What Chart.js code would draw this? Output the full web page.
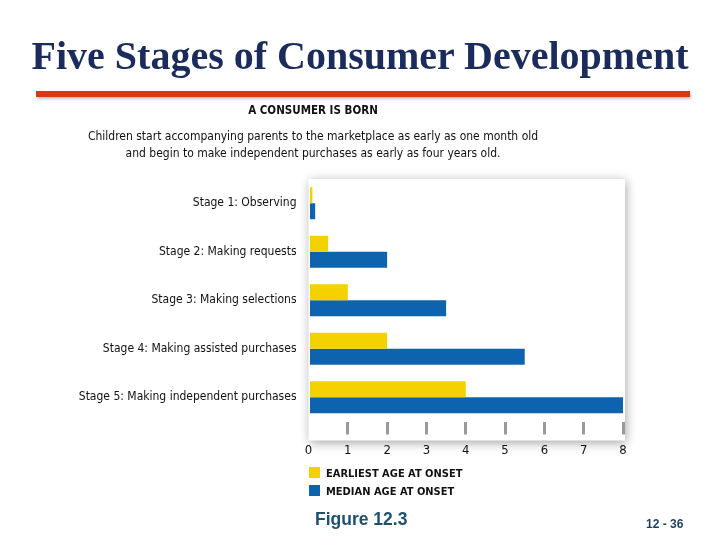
<!DOCTYPE html>
<html><head><meta charset="utf-8">
<script src="https://cdn.jsdelivr.net/npm/chart.js@4/dist/chart.umd.min.js"></script>
<style>
html,body{margin:0;padding:0;background:#fff;}
#wrap{position:relative;width:720px;height:540px;overflow:hidden;background:#fff;}
#c{position:absolute;left:0;top:0;}
.t{position:absolute;white-space:nowrap;}
#title{left:0;width:720px;top:33px;text-align:center;font-family:"Liberation Serif","Times New Roman",serif;font-weight:bold;font-size:40px;line-height:46px;color:#1b2b5c;}
#rule{position:absolute;left:36px;top:91px;width:654px;height:6px;background:#d9390f;box-shadow:1px 2px 3px rgba(0,0,0,0.25);}
.cond{font-family:"DejaVu Sans Condensed","Liberation Sans Narrow",sans-serif;color:#111;}
#head{left:0;width:626px;top:103px;text-align:center;font-weight:bold;font-size:11.5px;}
#sub{left:0;width:626px;top:128px;text-align:center;font-size:12px;line-height:17px;}
.leg{left:309px;font-weight:bold;font-size:11px;}
.sw{display:inline-block;width:11px;height:11px;vertical-align:-1px;margin-right:6px;}
#fig{left:315px;top:509px;font-family:"Liberation Sans",Arial,sans-serif;font-weight:bold;font-size:17.5px;color:#1d4f73;}
#pg{left:646px;top:517px;font-family:"Liberation Sans",Arial,sans-serif;font-weight:bold;font-size:12px;color:#1d3f5f;}
</style></head>
<body><div id="wrap">
<canvas id="c" width="720" height="540"></canvas>
<div id="title" class="t">Five Stages of Consumer Development</div>
<div id="rule"></div>
<div id="head" class="t cond">A CONSUMER IS BORN</div>
<div id="sub" class="t cond">Children start accompanying parents to the marketplace as early as one month old<br>and begin to make independent purchases as early as four years old.</div>
<div id="leg1" class="t cond leg" style="top:467px"></div>
<div id="leg2" class="t cond leg" style="top:485px"></div>
<div id="fig" class="t">Figure 12.3</div>
<div id="pg" class="t">12 - 36</div>
</div>
<script>
const categories = ["Stage 1: Observing","Stage 2: Making requests","Stage 3: Making selections","Stage 4: Making assisted purchases","Stage 5: Making independent purchases"];
const earliestAge = [0.1, 0.5, 1.0, 2.0, 4.0];
const medianAge = [0.17, 2.0, 3.5, 5.5, 8.0];
const seriesLabels = ["EARLIEST AGE AT ONSET","MEDIAN AGE AT ONSET"];
const xTicks = [0,1,2,3,4,5,6,7,8];
const colors = ["#f4d200","#0d63ad"];

const boxPlugin = {
  id:'box',
  beforeDraw(chart){
    const a = chart.chartArea, ctx = chart.ctx;
    ctx.save();
    ctx.shadowColor='rgba(0,0,0,0.35)';
    ctx.shadowBlur=10;
    ctx.shadowOffsetX=1;
    ctx.shadowOffsetY=2;
    ctx.fillStyle='#fff';
    ctx.fillRect(a.left, a.top, a.right - a.left + 2, a.bottom - a.top + 19);
    ctx.restore();
  }
};

const condFont = '"DejaVu Sans Condensed","Liberation Sans Narrow",sans-serif';

new Chart(document.getElementById('c'), {
  type:'bar',
  data:{
    labels:categories,
    datasets:[
      {label:seriesLabels[0], data:earliestAge, backgroundColor:colors[0], categoryPercentage:0.66, barPercentage:1.0},
      {label:seriesLabels[1], data:medianAge, backgroundColor:colors[1], categoryPercentage:0.66, barPercentage:1.0}
    ]
  },
  options:{
    indexAxis:'y',
    responsive:false,
    animation:false,
    layout:{padding:{left:0,right:97,top:179,bottom:0}},
    plugins:{legend:{display:false},tooltip:{enabled:false}},
    scales:{
      y:{
        grid:{display:false,drawTicks:false},
        border:{display:false},
        ticks:{padding:12,color:'#111',font:{family:condFont,size:12}},
        afterFit(s){ s.width = 308.5; }
      },
      x:{
        min:0,max:8,
        afterBuildTicks(s){ s.ticks = xTicks.map(v=>({value:v})); },
        grid:{drawOnChartArea:false,drawTicks:true,tickLength:13,lineWidth:3,
          color:(c)=> c.index===0 ? 'rgba(0,0,0,0)' : '#9a9a9a'},
        border:{display:false},
        ticks:{padding:8,color:'#111',font:{family:condFont,size:13}},
        afterFit(s){ s.height = 118.5; }
      }
    }
  },
  plugins:[boxPlugin]
});

document.getElementById('leg1').innerHTML = '<span class="sw" style="background:'+colors[0]+'"></span>'+seriesLabels[0];
document.getElementById('leg2').innerHTML = '<span class="sw" style="background:'+colors[1]+'"></span>'+seriesLabels[1];
</script>
</body></html>
